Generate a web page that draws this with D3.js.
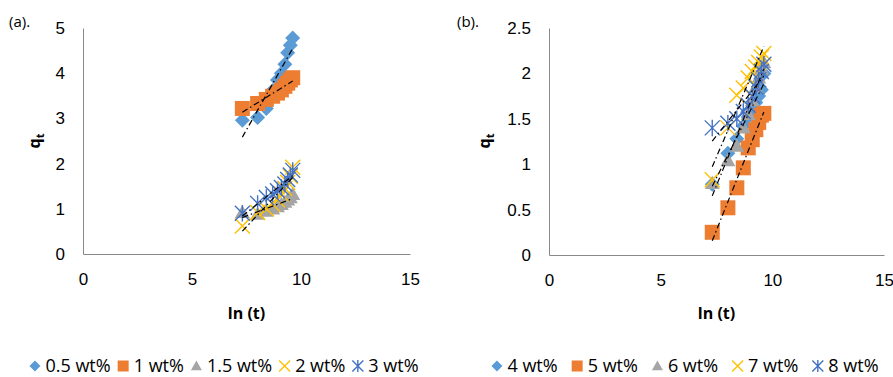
<!DOCTYPE html>
<html>
<head>
<meta charset="utf-8">
<script src="https://cdn.jsdelivr.net/npm/d3@7"></script>
<style>
  html, body { margin: 0; padding: 0; background: #fff; }
  svg { display: block; font-family: "Open Sans", sans-serif; }
  .tick text { font-size: 17px; fill: #000; }
  .domain { stroke: #898989; }
  .ttl { font-size: 16px; font-weight: bold; }
  .leg { font-size: 18px; }
</style>
</head>
<body>
<svg id="chart" width="893" height="377"></svg>
<script>
// ln(t) values shared by all series
var lnT = [7.31, 8.01, 8.41, 8.70, 8.92, 9.10, 9.26, 9.39, 9.51, 9.62];

var xTicks = [0, 5, 10, 15];
var yTicksA = [0, 1, 2, 3, 4, 5];
var yTicksB = [0, 0.5, 1, 1.5, 2, 2.5];

var namesA = ["0.5 wt%", "1 wt%", "1.5 wt%", "2 wt%", "3 wt%"];
var qt05 = [2.96, 3.02, 3.22, 3.62, 3.85, 4.00, 4.20, 4.45, 4.62, 4.78];
var qt1  = [3.22, 3.33, 3.42, 3.49, 3.56, 3.63, 3.71, 3.78, 3.85, 3.90];
var qt15 = [0.92, 0.88, 0.95, 1.00, 1.05, 1.10, 1.15, 1.20, 1.25, 1.32];
var qt2  = [0.62, 0.92, 1.00, 1.10, 1.20, 1.33, 1.45, 1.58, 1.72, 1.92];
var qt3  = [0.90, 1.12, 1.25, 1.33, 1.40, 1.47, 1.55, 1.65, 1.75, 1.85];

var namesB = ["4 wt%", "5 wt%", "6 wt%", "7 wt%", "8 wt%"];
var qt4 = [0.78, 1.12, 1.28, 1.42, 1.52, 1.60, 1.68, 1.75, 1.82, 2.00];
var qt5 = [0.25, 0.52, 0.74, 0.96, 1.18, 1.27, 1.38, 1.46, 1.54, 1.56];
var qt6 = [0.79, 1.04, 1.20, 1.40, 1.55, 1.70, 1.85, 1.95, 2.05, 2.12];
var qt7 = [0.83, 1.40, 1.76, 1.84, 1.95, 2.02, 2.07, 2.12, 2.18, 2.22];
var qt8 = [1.40, 1.45, 1.50, 1.58, 1.65, 1.75, 1.85, 1.93, 2.02, 2.10];

var colors = ["#5B9BD5", "#ED7D31", "#A5A5A5", "#FFC000", "#4472C4"];
var shapes = ["diamond", "square", "triangle", "cross", "star"];

var svg = d3.select("#chart");

// marker path, r = half size
function marker(shape, r) {
  switch (shape) {
    case "diamond": return "M0," + (-r) + "L" + r + ",0L0," + r + "L" + (-r) + ",0Z";
    case "square": return "M" + (-r) + "," + (-r) + "h" + 2 * r + "v" + 2 * r + "h" + (-2 * r) + "Z";
    case "triangle": return "M0," + (-r) + "L" + r + "," + (r * 0.75) + "L" + (-r) + "," + (r * 0.75) + "Z";
    case "cross": return "M" + (-r) + "," + (-r) + "L" + r + "," + r + "M" + r + "," + (-r) + "L" + (-r) + "," + r;
    case "star": return "M" + (-r) + "," + (-r) + "L" + r + "," + r + "M" + r + "," + (-r) + "L" + (-r) + "," + r +
                        "M0," + (-r * 1.1) + "L0," + (r * 1.1);
  }
}
function drawMarker(sel, i, r) {
  var filled = i < 3;
  sel.append("path")
    .attr("d", marker(shapes[i], r))
    .attr("fill", filled ? colors[i] : "none")
    .attr("stroke", colors[i])
    .attr("stroke-width", filled ? 0 : 1.4);
}

function fit(xs, ys) {
  var mx = d3.mean(xs), my = d3.mean(ys), sxy = 0, sxx = 0;
  for (var i = 0; i < xs.length; i++) {
    sxy += (xs[i] - mx) * (ys[i] - my);
    sxx += (xs[i] - mx) * (xs[i] - mx);
  }
  var b = sxy / sxx;
  return { b: b, a: my - b * mx };
}

function panel(cfg) {
  var x = d3.scaleLinear().domain([0, 15]).range([cfg.x0, cfg.x1]);
  var y = d3.scaleLinear().domain([0, cfg.ymax]).range([cfg.y0, 28]);
  var g = svg.append("g");

  g.append("g").attr("transform", "translate(0," + cfg.y0 + ")")
    .call(d3.axisBottom(x).tickValues(xTicks).tickSize(0).tickPadding(19).tickFormat(d3.format("~g")));
  g.append("g").attr("transform", "translate(" + cfg.x0 + ",0)")
    .call(d3.axisLeft(y).tickValues(cfg.yTicks).tickSize(0).tickPadding(18).tickFormat(d3.format("~g")));
  g.selectAll(".tick text").attr("font-family", null);

  cfg.series.forEach(function (s, i) {
    g.append("g").selectAll("g").data(s).join("g")
      .attr("transform", function (d, k) { return "translate(" + x(lnT[k]) + "," + y(d) + ")"; })
      .each(function () { drawMarker(d3.select(this), i, 7.5); });
  });
  cfg.series.forEach(function (s) {
    var f = fit(lnT, s), x0 = d3.min(lnT), x1 = d3.max(lnT);
    g.append("line")
      .attr("x1", x(x0)).attr("y1", y(f.a + f.b * x0))
      .attr("x2", x(x1)).attr("y2", y(f.a + f.b * x1))
      .attr("stroke", "#000").attr("stroke-width", 1.2)
      .attr("stroke-dasharray", "6,3,1.5,3");
  });

  // axis titles
  g.append("text").attr("class", "ttl").attr("x", (cfg.x0 + cfg.x1) / 2).attr("y", 319)
    .attr("text-anchor", "middle").text("ln (t)");
  var qt = g.append("text").attr("class", "ttl").attr("text-anchor", "middle")
    .attr("transform", "translate(" + cfg.qx + ",141) rotate(-90)");
  qt.append("tspan").text("q");
  qt.append("tspan").attr("font-size", "11px").attr("dy", 4).text("t");

  g.append("text").attr("x", cfg.lx).attr("y", 27).attr("font-size", "15px").text(cfg.tag);

  // legend
  var leg = g.append("g");
  var cx = 0;
  cfg.names.forEach(function (n, i) {
    var it = leg.append("g");
    it.append("g").attr("transform", "translate(" + (cx + 5.5) + ",0)")
      .each(function () { drawMarker(d3.select(this), i, 5.5); });
    var t = it.append("text").attr("class", "leg").attr("x", cx + 16).attr("dy", "0.35em").text(n);
    cx += 16 + t.node().getComputedTextLength() + cfg.gap;
  });
  var w = cx - cfg.gap;
  leg.attr("transform", "translate(" + (cfg.lc - w / 2) + ",366)");
}

panel({ x0: 83, x1: 410, y0: 254, ymax: 5, yTicks: yTicksA, series: [qt05, qt1, qt15, qt2, qt3],
        names: namesA, qx: 40, lx: 9, tag: "(a).", lc: 224, gap: 7 });
panel({ x0: 549, x1: 884, y0: 255, ymax: 2.5, yTicks: yTicksB, series: [qt4, qt5, qt6, qt7, qt8],
        names: namesB, qx: 490, lx: 457, tag: "(b).", lc: 685, gap: 14 });
</script>
</body>
</html>
